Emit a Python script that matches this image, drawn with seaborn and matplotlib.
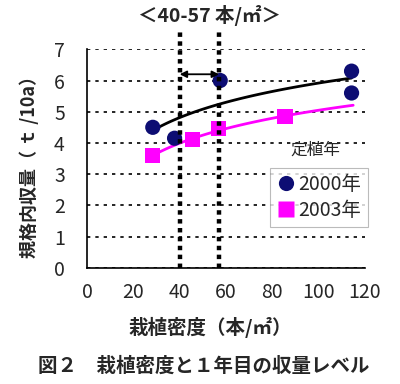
import numpy as np
import pandas as pd
import matplotlib
matplotlib.use("Agg")
import matplotlib.pyplot as plt
import seaborn as sns

# Data
x_2000 = [28.4, 37.8, 57.5, 114.2, 114.2]
y_2000 = [4.5, 4.15, 6.0, 6.3, 5.6]
x_2003 = [28.4, 45.7, 56.7, 85.5]
y_2003 = [3.6, 4.1, 4.45, 4.85]
series = ["2000年", "2003年"]
xticks = [0, 20, 40, 60, 80, 100, 120]
yticks = [0, 1, 2, 3, 4, 5, 6, 7]
range_lines = [40, 57]

sns.set_style("white")
plt.rcParams['font.family'] = ['Noto Sans CJK JP', 'DejaVu Sans']

df = pd.DataFrame({
    "x": x_2000 + x_2003,
    "y": y_2000 + y_2003,
    "year": [series[0]] * len(x_2000) + [series[1]] * len(x_2003),
})

fig = plt.figure(figsize=(4.0, 3.84), dpi=100)
ax = fig.add_axes([0.2175, 0.3028, 0.695, 0.5688])

# trend lines (log fits)
colors_line = {series[0]: "black", series[1]: "#ff00ff"}
for name, xs, ys, xend in [(series[0], x_2000, y_2000, 114.2), (series[1], x_2003, y_2003, 114.9)]:
    b, a = np.polyfit(np.log(xs), ys, 1)
    xx = np.linspace(min(xs), xend, 100)
    sns.lineplot(x=xx, y=a + b * np.log(xx), color=colors_line[name], lw=2, ax=ax, legend=False, zorder=3)

sns.scatterplot(data=df, x="x", y="y", hue="year", style="year",
                markers={series[0]: "o", series[1]: "s"},
                palette={series[0]: "#0d0d73", series[1]: "#ff00ff"},
                s=120, edgecolor="none", ax=ax, zorder=4)

ax.set_xlim(0, 120)
ax.set_ylim(0, 7)
ax.set_xticks(xticks)
ax.set_yticks(yticks)
ax.tick_params(axis="both", labelsize=14, length=5, width=1, direction="out")
ax.tick_params(axis="x", pad=5)
ax.tick_params(axis="y", pad=11)
for s in ["top", "right"]:
    ax.spines[s].set_visible(False)
for s in ["left", "bottom"]:
    ax.spines[s].set_color("black")
    ax.spines[s].set_linewidth(1.2)
ax.yaxis.grid(True, linestyle=(0, (2, 3)), color="black", lw=1.2)
ax.set_axisbelow(True)
ax.set_xlabel("")
ax.set_ylabel("")

# vertical range lines
for xv in range_lines:
    ax.plot([xv, xv], [0, 7.55], color="black", lw=3.2, linestyle=(0, (1, 1)),
            clip_on=False, zorder=5)

ax.annotate("", xy=(range_lines[0], 6.2), xytext=(range_lines[1], 6.2),
            arrowprops=dict(arrowstyle="<|-|>", color="black", lw=1.3,
                            mutation_scale=10, shrinkA=0, shrinkB=0), zorder=6)

ax.text(98.5, 3.77, "定植年", fontsize=12, ha="center", va="center")

leg = ax.legend(loc="upper left", bbox_to_anchor=(0.66, 0.455), fontsize=14,
                frameon=True, fancybox=False, edgecolor="#aaaaaa",
                handletextpad=0.15, borderpad=0.3, labelspacing=0.25,
                handlelength=1.0, borderaxespad=0)
leg.get_frame().set_linewidth(0.8)
for h in leg.legend_handles:
    try:
        h.set_sizes([120])
    except Exception:
        pass

fig.text(0.525, 0.96, "＜40-57 本/㎡＞", fontsize=14, ha="center", va="center", weight="bold")
fig.text(0.525, 0.146, "栽植密度（本/㎡）", fontsize=14, ha="center", va="center", weight="bold")
fig.text(0.072, 0.576, "規格内収量（ ｔ /10a）", fontsize=13, ha="center", va="center",
         rotation=90, weight="bold")
fig.text(0.51, 0.047, "図２　栽植密度と１年目の収量レベル", fontsize=14, ha="center",
         va="center", weight="bold")

fig.savefig("out.png", dpi=100)
